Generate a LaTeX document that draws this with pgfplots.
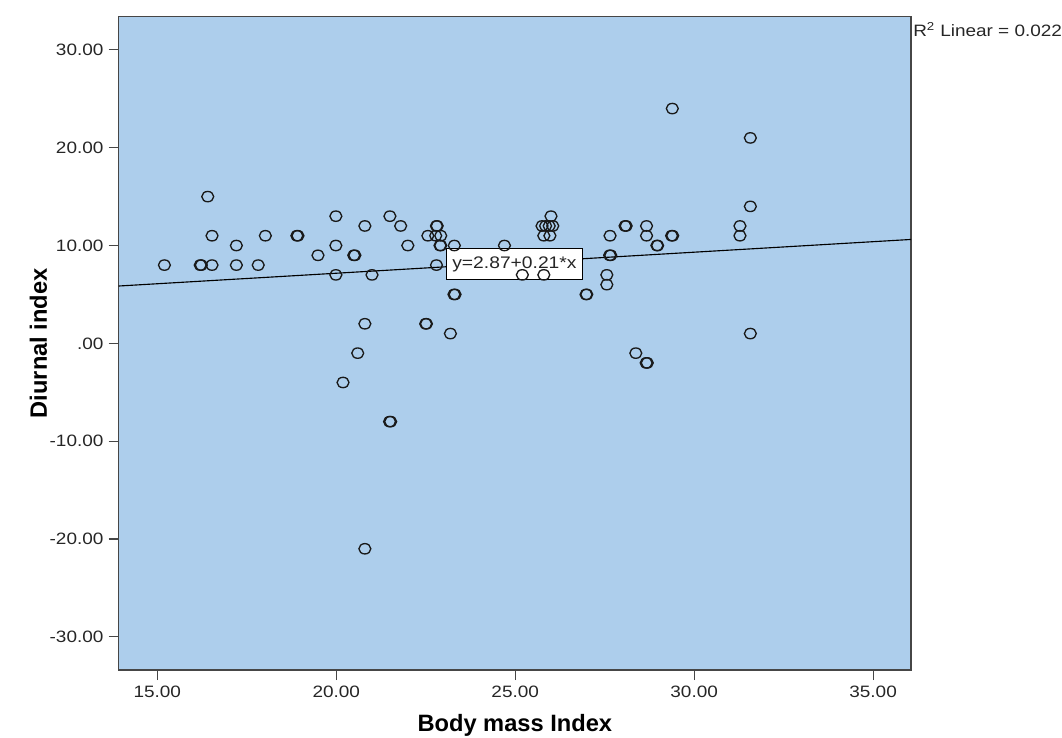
\documentclass[border=0pt]{standalone}
\usepackage{fontspec}
\setmainfont{Liberation Sans}
\newfontfamily\tickfont[FakeStretch=1.15]{Liberation Sans}
\usepackage{pgfplots}
\pgfplotsset{compat=1.18}
\usepackage{pgfplotstable}
\definecolor{bgblue}{RGB}{173,206,236}
\definecolor{frm}{RGB}{70,70,70}

\pgfplotstableread{
x y
15.2 8
16.2 8
16.23 8
16.53 8
16.41 15
16.53 11
17.21 10
17.21 8
17.82 8
18.02 11
18.9 11
18.93 11
19.49 9
19.99 13
19.99 10
19.99 7
20.49 9
20.52 9
20.8 12
21.0 7
20.8 2
20.6 -1
20.19 -4
21.49 -8
21.52 -8
20.8 -21
21.5 13
21.8 12
22.0 10
22.56 11
22.8 12
22.82 12
22.78 11
22.92 11
22.9 10
22.92 10
22.8 8
23.3 10
23.29 5
23.32 5
23.19 1
22.5 2
22.52 2
24.7 10
25.2 7
25.8 7
26.0 13
25.75 12
25.85 12
25.95 12
26.05 12
25.8 11
25.97 11
26.98 5
27.0 5
27.65 11
27.64 9
27.67 9
27.56 7
27.56 6
28.07 12
28.1 12
28.67 12
28.67 11
28.96 10
28.98 10
29.37 11
29.4 11
29.39 24
28.37 -1
28.66 -2
28.69 -2
31.28 12
31.28 11
31.57 21
31.57 14
31.57 1
}\pts

\begin{document}
\begin{tikzpicture}
\begin{axis}[
  at={(0,0)}, anchor=south west,
  scale only axis, width=596.25pt, height=491.7pt,
  xmin=13.92, xmax=36.06, ymin=-33.4, ymax=33.4,
  axis background/.style={fill=bgblue},
  axis line style={frm, line width=1.1pt},
  xtick={15,20,25,30,35}, xticklabels={15.00,20.00,25.00,30.00,35.00},
  ytick={-30,-20,-10,0,10,20,30},
  yticklabels={-30.00,-20.00,-10.00,.00,10.00,20.00,30.00},
  tick align=outside, major tick length=7.5pt,
  tick style={frm, line width=0.9pt},
  xtick pos=bottom, ytick pos=left,
  ticklabel style={font=\tickfont\fontsize{12.4}{14}\selectfont, text=black!85},
  xticklabel style={anchor=base, inner sep=0pt, yshift=-13pt},
  yticklabel style={anchor=east, inner sep=0pt, xshift=-3.75pt},
  xlabel={Body mass Index}, ylabel={Diurnal index},
  label style={font=\bfseries\fontsize{17.8}{20}\selectfont},
  xlabel style={at={(axis description cs:0.5,-0.0946)}, anchor=base, inner sep=0pt},
  ylabel style={at={(axis description cs:-0.0906,0.5)}, anchor=base, inner sep=0pt},
  clip=false,
]
\addplot[only marks, mark=o, mark size=3.9pt,
  mark options={xscale=1.15, line width=1pt, draw=black!90}] table[x=x,y=y] {\pts};
\addplot[black, line width=0.85pt] coordinates {(13.92,5.86) (36.06,10.62)};
\node[draw=black, fill=white, line width=0.7pt, inner xsep=4.5pt, inner ysep=0pt,
  minimum height=23.5pt, font=\tickfont\fontsize{12.6}{14}\selectfont, text=black!85]
  at (axis cs:24.98,8.09) {y=2.87+0.21*x};
\node[anchor=base west, inner sep=0pt, xshift=1.5pt, yshift=-15pt,
  font=\tickfont\fontsize{12.4}{14}\selectfont, text=black!85]
  at (rel axis cs:1,1) {R\textsuperscript{2} Linear = 0.022};
\end{axis}
\useasboundingbox (-89.25pt,-50.8pt) rectangle (707.25pt,504.2pt);
\end{tikzpicture}
\end{document}
